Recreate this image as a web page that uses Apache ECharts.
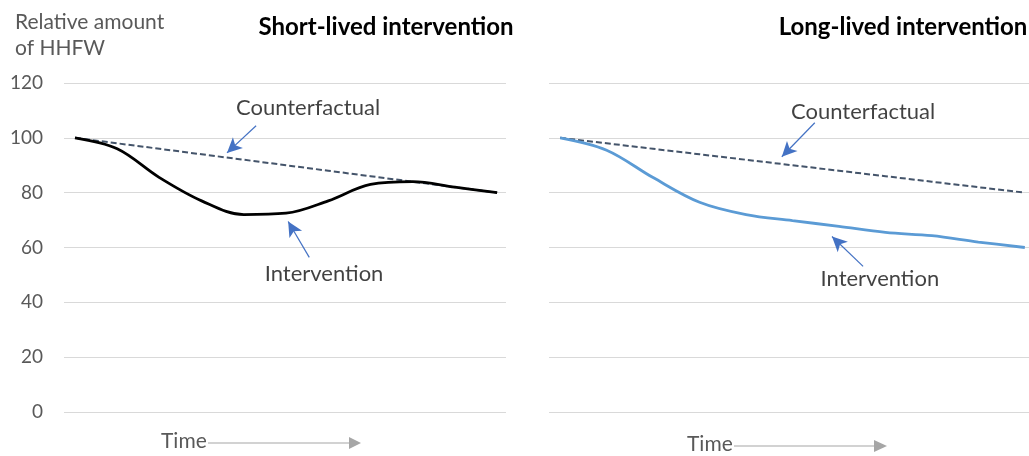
<!DOCTYPE html>
<html>
<head>
<meta charset="utf-8">
<script src="https://cdn.jsdelivr.net/npm/echarts@6/dist/echarts.min.js"></script>
<style>
  html, body { margin: 0; padding: 0; background: #fff; }
  #main { width: 1029px; height: 456px; }
</style>
</head>
<body>
<div id="main"></div>
<script>
// time steps shared by both panels
var timeSteps = [0, 1, 2, 3, 4, 5, 6, 7, 8, 9, 10];
var counterfactual = [100, 98, 96, 94, 92, 90, 88, 86, 84, 82, 80];
var shortIntervention = [100, 96, 85.5, 77, 72, 72.5, 77, 83, 84, 82, 80];
var longIntervention = [100, 95.5, 85.5, 76.5, 72, 69.8, 67.7, 65.5, 64.3, 62, 60];
var yTicks = [0, 20, 40, 60, 80, 100, 120];

// annotation text [x, y, text] and arrows [[x1, y1], [x2, y2]] in data units
var shortLabels = [[5.52, 110.9, 'Counterfactual'], [5.9, 50.2, 'Intervention']];
var shortArrows = [[[4.29, 104.4], [3.6, 94.5]], [[5.55, 56.4], [5.05, 69.5]]];
var longLabels = [[6.52, 109.5, 'Counterfactual'], [6.88, 48.4, 'Intervention']];
var longArrows = [[[5.48, 105.5], [4.77, 93.1]], [[6.52, 53.1], [5.85, 64]]];

var font = 'Lato, "Open Sans", sans-serif';
var arrowBlue = '#4472c4';

function pairs(ys) {
  return timeSteps.map(function (t, i) { return [t, ys[i]]; });
}

function annotationSeries(idx, labels, arrows) {
  return {
    type: 'scatter',
    xAxisIndex: idx,
    yAxisIndex: idx,
    symbolSize: 0,
    silent: true,
    z: 5,
    data: labels.map(function (l) { return { value: [l[0], l[1]], name: l[2] }; }),
    label: {
      show: true,
      position: 'inside',
      formatter: '{b}',
      color: '#111',
      fontSize: 22,
      fontFamily: font
    },
    markLine: {
      silent: true,
      symbol: ['none', 'arrow'],
      symbolSize: [11, 15],
      label: { show: false },
      lineStyle: { color: arrowBlue, width: 1.2, type: 'solid' },
      data: arrows.map(function (a) {
        return [{ coord: a[0] }, { coord: a[1] }];
      })
    }
  };
}

var myChart = echarts.init(document.getElementById('main'));

var option = {
  backgroundColor: '#fff',
  animation: false,
  textStyle: { fontFamily: font },
  title: [
    { text: 'Short-lived intervention', left: 381, top: 10, textAlign: 'center',
      textStyle: { fontSize: 24, fontWeight: 'bold', color: '#000', fontFamily: font } },
    { text: 'Long-lived intervention', left: 898, top: 10, textAlign: 'center',
      textStyle: { fontSize: 24, fontWeight: 'bold', color: '#000', fontFamily: font } },
    { text: 'Relative amount\nof HHFW', left: 10, top: 4,
      textStyle: { fontSize: 21, fontWeight: 'normal', color: '#595959', lineHeight: 26, fontFamily: font } }
  ],
  grid: [
    { left: 64, top: 83, width: 442, bottom: 44 },
    { left: 549, top: 83, right: 0, bottom: 44 }
  ],
  xAxis: [
    { type: 'value', gridIndex: 0, min: -0.26, max: 10.21, show: false },
    { type: 'value', gridIndex: 1, min: -0.24, max: 10.09, show: false }
  ],
  yAxis: [
    { type: 'value', gridIndex: 0, min: yTicks[0], max: yTicks[yTicks.length - 1], interval: 20,
      axisLine: { show: false }, axisTick: { show: false },
      axisLabel: { color: '#595959', fontSize: 19, margin: 21, fontFamily: font },
      splitLine: { lineStyle: { color: '#d9d9d9', width: 1.2 } } },
    { type: 'value', gridIndex: 1, min: yTicks[0], max: yTicks[yTicks.length - 1], interval: 20,
      axisLine: { show: false }, axisTick: { show: false }, axisLabel: { show: false },
      splitLine: { lineStyle: { color: '#d9d9d9', width: 1.2 } } }
  ],
  series: [
    { name: 'Counterfactual', type: 'line', xAxisIndex: 0, yAxisIndex: 0,
      data: pairs(counterfactual), showSymbol: false, silent: true,
      lineStyle: { color: '#44546a', width: 2, type: [6, 3] } },
    { name: 'Intervention', type: 'line', xAxisIndex: 0, yAxisIndex: 0,
      data: pairs(shortIntervention), showSymbol: false, silent: true, smooth: 0.35, z: 3,
      lineStyle: { color: '#000', width: 2.8 } },
    { name: 'Counterfactual', type: 'line', xAxisIndex: 1, yAxisIndex: 1,
      data: pairs(counterfactual), showSymbol: false, silent: true,
      lineStyle: { color: '#44546a', width: 2, type: [6, 3] } },
    { name: 'Intervention', type: 'line', xAxisIndex: 1, yAxisIndex: 1,
      data: pairs(longIntervention), showSymbol: false, silent: true, smooth: 0.35, z: 3,
      lineStyle: { color: '#5b9bd5', width: 2.8 } },
    annotationSeries(0, shortLabels, shortArrows),
    annotationSeries(1, longLabels, longArrows)
  ],
  graphic: [
    { type: 'text', left: 161, top: 431,
      style: { text: 'Time', fill: '#595959', fontSize: 21, fontFamily: font } },
    { type: 'line', shape: { x1: 208, y1: 443, x2: 350, y2: 443 },
      style: { stroke: '#a6a6a6', lineWidth: 1.2 } },
    { type: 'polygon', shape: { points: [[349, 437], [361, 443], [349, 449]] },
      style: { fill: '#a6a6a6' } },
    { type: 'text', left: 687, top: 434,
      style: { text: 'Time', fill: '#595959', fontSize: 21, fontFamily: font } },
    { type: 'line', shape: { x1: 734, y1: 446, x2: 875, y2: 446 },
      style: { stroke: '#a6a6a6', lineWidth: 1.2 } },
    { type: 'polygon', shape: { points: [[874, 440], [887, 446], [874, 452]] },
      style: { fill: '#a6a6a6' } }
  ]
};

myChart.setOption(option);
</script>
</body>
</html>
